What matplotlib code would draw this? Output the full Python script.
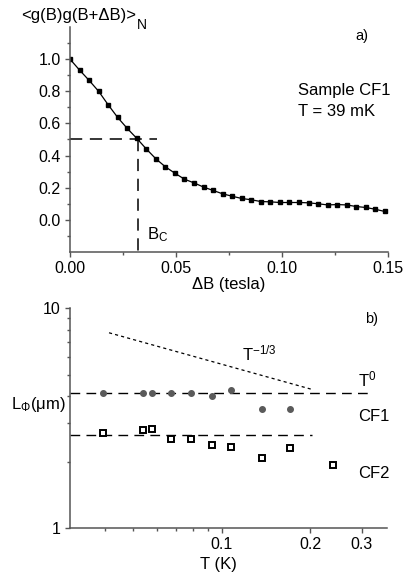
import numpy as np
import matplotlib
matplotlib.use("Agg")
import matplotlib.pyplot as plt
import matplotlib.ticker as mtick

plt.rcParams['font.family'] = ['Liberation Sans', 'DejaVu Sans']
plt.rcParams['mathtext.fontset'] = 'custom'
plt.rcParams['mathtext.rm'] = 'Liberation Sans'
plt.rcParams['mathtext.it'] = 'Liberation Sans:italic'

# ---- panel a) correlation function vs field step ----
dB = np.arange(34) * 0.0045
corr = [1.000, 0.932, 0.868, 0.800, 0.716, 0.637, 0.569, 0.507, 0.441, 0.380,
        0.330, 0.290, 0.253, 0.230, 0.204, 0.183, 0.162, 0.147, 0.133, 0.125,
        0.114, 0.112, 0.108, 0.108, 0.108, 0.106, 0.100, 0.093, 0.095, 0.093,
        0.083, 0.077, 0.066, 0.052]
half_level = 0.5
B_c = 0.032

# ---- panel b) phase coherence length vs temperature ----
T_cf1 = [0.0395, 0.054, 0.0578, 0.0671, 0.0784, 0.0925, 0.1076, 0.1372, 0.171]
L_cf1 = [4.11, 4.11, 4.11, 4.11, 4.11, 3.99, 4.25, 3.47, 3.47]
T_cf2 = [0.0395, 0.054, 0.0578, 0.0671, 0.0784, 0.0925, 0.1076, 0.1372, 0.171, 0.239]
L_cf2 = [2.72, 2.80, 2.83, 2.55, 2.55, 2.39, 2.35, 2.08, 2.32, 1.94]
T_guide = [0.0413, 0.203]
L_guide = [7.74, 4.28]
cf1_level, cf1_end = 4.11, 0.316
cf2_level, cf2_end = 2.66, 0.203

axcol = '#555555'
W, H = 409, 577
fig = plt.figure(figsize=(W / 100, H / 100), dpi=100)

def style(ax):
    for s in ['top', 'right']:
        ax.spines[s].set_visible(False)
    for s in ['left', 'bottom']:
        ax.spines[s].set_color(axcol)
        ax.spines[s].set_linewidth(1.1)
    ax.tick_params(which='both', direction='out', color=axcol, width=1.0,
                   labelsize=11.5, pad=3)
    ax.tick_params(which='major', length=3.5)
    ax.tick_params(which='minor', length=2.2)

# top panel
ax1 = fig.add_axes([70 / W, 1 - 252 / H, 318 / W, 225 / H])
style(ax1)
ax1.plot(dB, corr, color='black', lw=0.9, marker='s', ms=3.3, mfc='black', mec='black')
ax1.plot([0, 0.041], [half_level, half_level], color='black', lw=1.1, dashes=(8, 5))
ax1.plot([B_c, B_c], [half_level, -0.2], color='black', lw=1.1, dashes=(8, 5))
ax1.set_xlim(0, 0.15)
ax1.set_ylim(-0.2, 1.2)
ax1.set_xticks([0, 0.05, 0.10, 0.15])
ax1.xaxis.set_major_formatter(mtick.FormatStrFormatter('%.2f'))
ax1.xaxis.set_minor_locator(mtick.MultipleLocator(0.025))
ax1.set_yticks([0, 0.2, 0.4, 0.6, 0.8, 1.0])
ax1.yaxis.set_major_formatter(mtick.FormatStrFormatter('%.1f'))
ax1.set_yticks(np.arange(-0.1, 1.15, 0.2), minor=True)
ax1.set_xlabel('ΔB (tesla)', fontsize=12, labelpad=1)
ax1.text(0.0363, -0.123, r'$\mathregular{B_C}$', fontsize=12, va='baseline')
ax1.text(0.1347, 1.117, 'a)', fontsize=10.5, va='baseline')
ax1.text(0.1075, 0.774, 'Sample CF1', fontsize=12, va='baseline')
ax1.text(0.1075, 0.644, 'T = 39 mK', fontsize=12, va='baseline')
ylab = fig.text(21 / W, 1 - 20 / H, '<g(B)g(B+ΔB)>', fontsize=12,
                ha='left', va='baseline')
fig.canvas.draw()
ax1.annotate('N', xy=(1, 0), xycoords=ylab, xytext=(0.5, -4),
             textcoords='offset points', fontsize=10, ha='left', va='baseline')

# bottom panel
ax2 = fig.add_axes([70 / W, 1 - 528.3 / H, 317 / W, 220 / H])
style(ax2)
ax2.set_xscale('log')
ax2.set_yscale('log')
ax2.plot([0.0304, cf1_end], [cf1_level, cf1_level], color='black', lw=1.0, dashes=(7, 4.5))
ax2.plot([0.0304, cf2_end], [cf2_level, cf2_level], color='black', lw=1.0, dashes=(7, 4.5))
ax2.plot(T_guide, L_guide, color='black', lw=0.9, dashes=(2.5, 2.5))
ax2.plot(T_cf1, L_cf1, ls='none', marker='o', ms=4, mfc='#5a5a5a', mec='#5a5a5a')
ax2.plot(T_cf2, L_cf2, ls='none', marker='s', ms=3.9, mfc='white', mec='black', mew=1.4)
ax2.set_xlim(0.0304, 0.366)
ax2.set_ylim(1, 10)
ax2.xaxis.set_major_locator(mtick.FixedLocator([0.1, 0.2, 0.3]))
ax2.xaxis.set_major_formatter(mtick.FixedFormatter(['0.1', '0.2', '0.3']))
ax2.xaxis.set_minor_locator(mtick.FixedLocator([0.04, 0.05, 0.06, 0.07, 0.08, 0.09]))
ax2.xaxis.set_minor_formatter(mtick.NullFormatter())
ax2.yaxis.set_major_locator(mtick.FixedLocator([1, 10]))
ax2.yaxis.set_major_formatter(mtick.FixedFormatter(['1', '10']))
ax2.yaxis.set_minor_locator(mtick.FixedLocator([2, 3, 4, 5, 6, 7, 8, 9]))
ax2.yaxis.set_minor_formatter(mtick.NullFormatter())
ax2.set_xlabel('T (K)', fontsize=12, labelpad=6)
ax2.xaxis.set_label_coords((218 - 70) / 317, -0.13)
ax2.text(0.117, 5.82, r'$\mathregular{T^{-1/3}}$', fontsize=12, va='baseline')
ax2.text(0.292, 4.40, r'$\mathregular{T^0}$', fontsize=12, va='baseline')
ax2.text(0.292, 3.07, 'CF1', fontsize=12, va='baseline')
ax2.text(0.292, 1.69, 'CF2', fontsize=12, va='baseline')
ax2.text(0.308, 8.55, 'b)', fontsize=10.5, va='baseline')
fig.text(66 / W, 1 - 405 / H, r'$\mathregular{L_Φ(μm)}$', fontsize=12,
         ha='right', va='center')

fig.savefig('out.png', dpi=100)
